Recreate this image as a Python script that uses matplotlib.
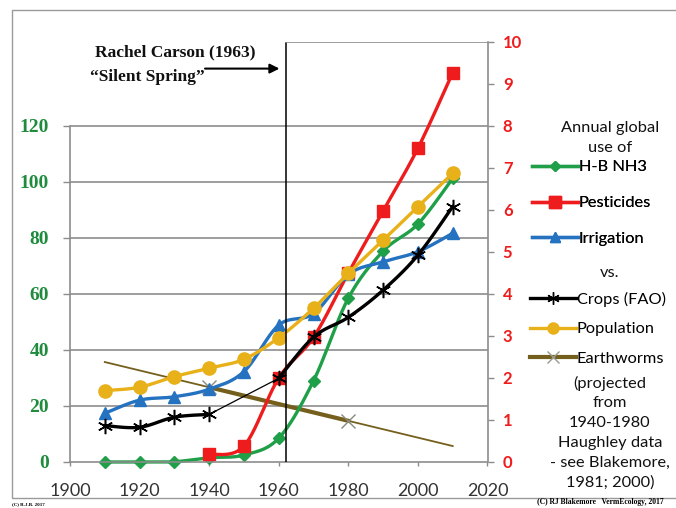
import numpy as np
import matplotlib
matplotlib.use('Agg')
import matplotlib.pyplot as plt
from matplotlib.lines import Line2D
from matplotlib.patches import Rectangle

# values
years = [1910, 1920, 1930, 1940, 1950, 1960, 1970, 1980, 1990, 2000, 2010]
hb_nh3 = [0, 0, 0.1, 1.5, 2.5, 8.5, 29, 58.5, 75.3, 85, 101.3]
irrigation = [17.4, 22.1, 23.3, 26.0, 32.3, 48.9, 53, 67, 71.5, 75.1, 81.7]
crops = [13.0, 12.4, 16.0, 17.0, np.nan, 29.9, 44.6, 51.7, 61.4, 73.9, 91.2]
population = [25.5, 26.7, 30.5, 33.5, 36.7, 44.4, 54.9, 67.4, 79.2, 91.2, 103.1]

pest_years = [1940, 1950, 1960, 1970, 1980, 1990, 2000, 2010]
pesticides = [0.18, 0.38, 2.0, 2.97, 4.5, 5.98, 7.47, 9.27]   # right axis

worm_years = [1940, 1980]
earthworms = [1.78, 0.98]   # right axis
trend_years = [1910, 2010]

carson_year = 1962   # where the marker line sits in the picture

left_ticks = [0, 20, 40, 60, 80, 100, 120]
right_ticks = list(range(0, 11))
x_ticks = [1900, 1920, 1940, 1960, 1980, 2000, 2020]

GREEN = '#1fa048'
RED = '#ee1c1c'
BLUE = '#2472c0'
GOLD = '#e8b11a'
WORM = '#74601c'
GRID = '#8c8c8c'


def smooth(x, y, n=24):
    # excel style smoothed line (catmull-rom as bezier)
    x = np.asarray(x, float)
    y = np.asarray(y, float)
    px = np.r_[x[0], x, x[-1]]
    py = np.r_[y[0], y, y[-1]]
    t = np.linspace(0, 1, n)[:, None]
    xs, ys = [], []
    for i in range(len(x) - 1):
        p = np.c_[px[i:i + 4], py[i:i + 4]]
        c1 = p[1] + (p[2] - p[0]) / 6
        c2 = p[2] - (p[3] - p[1]) / 6
        b = ((1 - t) ** 3) * p[1] + 3 * ((1 - t) ** 2) * t * c1 + 3 * (1 - t) * t ** 2 * c2 + t ** 3 * p[2]
        xs.append(b[:, 0])
        ys.append(b[:, 1])
    return np.concatenate(xs), np.concatenate(ys)


fig = plt.figure(figsize=(6.76, 5.08), dpi=100)
W, H = 676, 508
ax = fig.add_axes([70 / W, (H - 462) / H, (487.5 - 70) / W, (462 - 42) / H])
ax2 = ax.twinx()
ax.set_xlim(1900, 2020)
ax.set_ylim(0, 150)
ax2.set_ylim(0, 10)
ax.set_zorder(2)
ax2.set_zorder(1)
ax.patch.set_visible(False)

# grid
for v in left_ticks[1:]:
    ax.axhline(v, color=GRID, lw=1.2, zorder=0.5)

yrs = np.array(years, float)

# earthworm trend (thin) and data (thick), on right scale
coef = np.polyfit(worm_years, earthworms, 1)
ax.plot(trend_years, np.polyval(coef, trend_years), color=WORM, lw=1.3,
        transform=ax2.transData, zorder=1.5)
ax.plot(worm_years, earthworms, color=WORM, lw=3, marker='x', ms=10, mew=1,
        mec='#8a8a80', transform=ax2.transData, zorder=1.6)

# H-B NH3
sx, sy = smooth(years, hb_nh3)
ax.plot(sx, sy, color=GREEN, lw=2.4, zorder=2, clip_on=False)
ax.plot(years, hb_nh3, ls='none', marker='D', ms=6, color=GREEN, zorder=2, clip_on=False)

# pesticides (right axis)
sx, sy = smooth(pest_years, pesticides)
ax.plot(sx, sy, color=RED, lw=2.4, transform=ax2.transData, zorder=3)
ax.plot(pest_years, pesticides, ls='none', marker='s', ms=9, color=RED,
        transform=ax2.transData, zorder=3)

# irrigation
sx, sy = smooth(years, irrigation)
ax.plot(sx, sy, color=BLUE, lw=2.4, zorder=4)
ax.plot(years, irrigation, ls='none', marker='^', ms=9, color=BLUE, zorder=4)

# crops, two thick pieces joined by a thin line where 1950 is missing
cr = np.array(crops, float)
ok = ~np.isnan(cr)
gap = np.where(~ok)[0][0]
ax.plot([yrs[gap - 1], yrs[gap + 1]], [cr[gap - 1], cr[gap + 1]], color='black', lw=0.9, zorder=5)
for a, b in [(0, gap), (gap + 1, len(years))]:
    sx, sy = smooth(yrs[a:b], cr[a:b])
    ax.plot(sx, sy, color='black', lw=2.4, zorder=5)
ax.plot(yrs[ok], cr[ok], ls='none', marker=(6, 2, 0), ms=11, mew=1.1, color='black', zorder=5)

# population
sx, sy = smooth(years, population)
ax.plot(sx, sy, color=GOLD, lw=2.4, zorder=6)
ax.plot(years, population, ls='none', marker='o', ms=9.5, color=GOLD, zorder=6)

# carson line and top edge
ax.plot([carson_year, carson_year], [0, 10], color='black', lw=1.1, transform=ax2.transData, zorder=7)
ax.plot([carson_year, 2020], [10, 10], color=GRID, lw=1.2, transform=ax2.transData, zorder=7)

# axes styling
for s in ['top', 'right']:
    ax.spines[s].set_visible(False)
for s in ['top', 'left']:
    ax2.spines[s].set_visible(False)
ax.spines['left'].set_bounds(0, 120)
ax.spines['left'].set_color(GRID)
ax.spines['bottom'].set_color(GRID)
ax2.spines['right'].set_color(GRID)
ax2.spines['bottom'].set_visible(False)
for sp in ax.spines.values():
    sp.set_linewidth(1.2)
ax2.spines['right'].set_linewidth(1.2)

ax.set_yticks(left_ticks)
ax.set_yticklabels([str(v) for v in left_ticks], family='Liberation Serif', fontweight='bold',
                   fontsize=14, color='#1e8c3c')
ax.tick_params(axis='y', length=5, width=1, color=GRID, pad=10)
ax.set_xticks(x_ticks)
ax.set_xticklabels([str(v) for v in x_ticks], family='Lato', fontsize=13, color='#333333')
ax.tick_params(axis='x', length=3, width=1, color=GRID, pad=12)

ax2.set_yticks(right_ticks)
ax2.set_yticklabels([str(v) for v in right_ticks], family='Lato', fontweight='bold',
                    fontsize=12, color=RED)
ax2.tick_params(axis='y', length=4, width=1, color=GRID, pad=7)

# annotation
fig.text(95 / W, 1 - 52 / H, 'Rachel Carson (1963)', family='Liberation Serif', fontweight='bold',
         fontsize=12.5, va='center', ha='left', color='#111111')
fig.text(205 / W, 1 - 77 / H, '\u201cSilent Spring\u201d', family='Liberation Serif', fontweight='bold',
         fontsize=12.5, va='center', ha='right', color='#111111')
ax.annotate('', xy=(carson_year - 1.0, 140.5), xytext=(1938.0, 140.5),
            arrowprops=dict(arrowstyle='-|>', color='black', lw=1.5, mutation_scale=14),
            annotation_clip=False)

# legend
lf = dict(family='Lato', fontsize=11.8, color='#111111')
fig.text(610 / W, 1 - 128 / H, 'Annual global', ha='center', va='center', **lf)
fig.text(610 / W, 1 - 148 / H, 'use of', ha='center', va='center', **lf)
fig.text(610 / W, 1 - 273 / H, 'vs.', ha='center', va='center', **lf)
notes = ['(projected', 'from', '1940-1980', 'Haughley data', '- see Blakemore,', '1981; 2000)']
for i, t in enumerate(notes):
    fig.text(610 / W, 1 - (383 + i * 20) / H, t, ha='center', va='center', **lf)

h1 = [Line2D([], [], color=GREEN, lw=2.4, marker='D', ms=5),
      Line2D([], [], color=RED, lw=2.4, marker='s', ms=8),
      Line2D([], [], color=BLUE, lw=2.4, marker='^', ms=7)]
h2 = [Line2D([], [], color='black', lw=2.4, marker=(6, 2, 0), ms=9, mew=1),
      Line2D([], [], color=GOLD, lw=2.4, marker='o', ms=8),
      Line2D([], [], color=WORM, lw=3, marker='x', ms=9, mec='#9a9a90', mew=1)]
leg1 = fig.legend(h1, ['H-B NH3', 'Pesticides', 'Irrigation'], loc='upper left',
                  bbox_to_anchor=(532 / W, 1 - 160 / H), frameon=False, handlelength=2.8,
                  handletextpad=0.05, labelspacing=1.3, borderpad=0, borderaxespad=0,
                  prop=dict(family='Lato', size=11.8))
leg2 = fig.legend(h2, ['Crops (FAO)', 'Population', 'Earthworms'], loc='upper left',
                  bbox_to_anchor=(530 / W, 1 - 292 / H), frameon=False, handlelength=2.8,
                  handletextpad=0.05, labelspacing=0.9, borderpad=0, borderaxespad=0,
                  prop=dict(family='Lato', size=11.8))
fig.add_artist(leg1)

fig.text(537 / W, 1 - 502 / H, '(C) RJ Blakemore   VermEcology, 2017', family='Liberation Serif',
         fontweight='bold', fontsize=5.5, va='center', ha='left')
fig.text(12 / W, 1 - 504 / H, '(C) R.J.B. 2017', family='Liberation Serif', fontweight='bold',
         fontsize=3.6, va='center', ha='left')

# outer frame
fig.add_artist(Rectangle((12 / W, 1 - 498 / H), 700 / W, 488 / H, transform=fig.transFigure,
                         fill=False, ec='#9a9a9a', lw=1))

fig.savefig('out.png', dpi=100)
